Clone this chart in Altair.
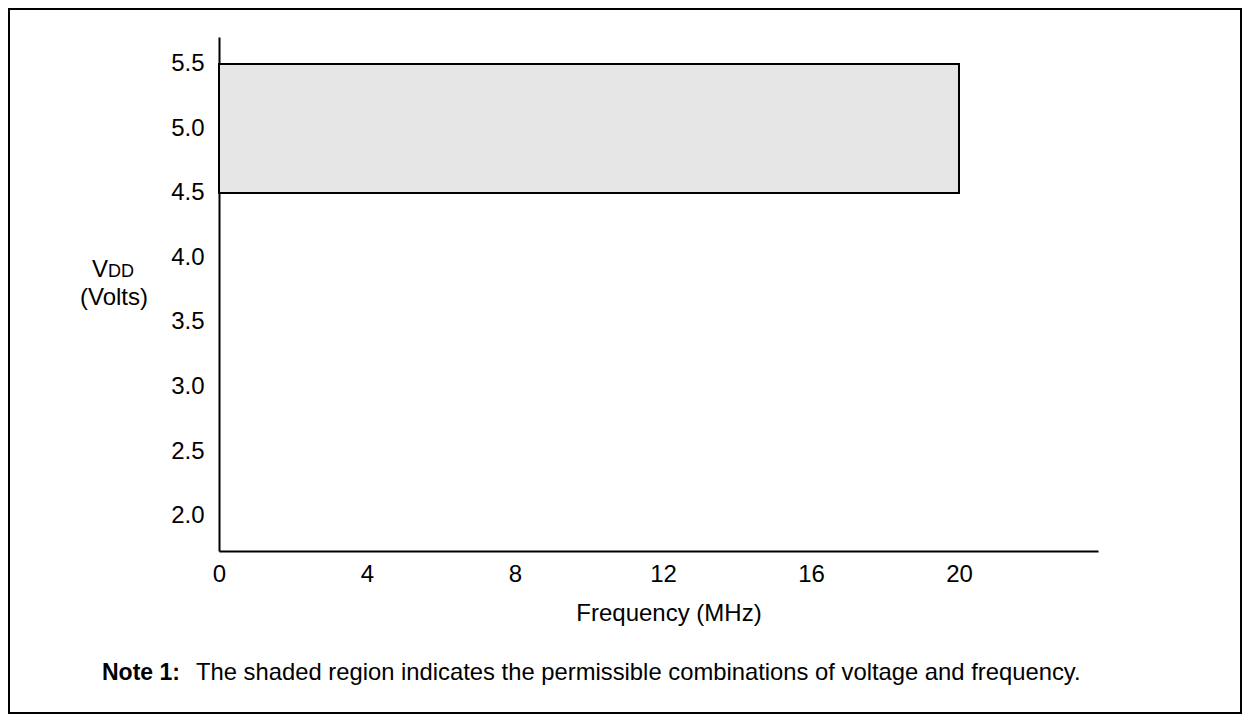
import altair as alt
import pandas as pd

# Data
x_ticks = [0, 4, 8, 12, 16, 20]
y_ticks = [2.0, 2.5, 3.0, 3.5, 4.0, 4.5, 5.0, 5.5]
region_f_start = [0]
region_f_end = [20]
region_v_low = [4.5]
region_v_high = [5.5]

x_domain = [0, 23.757]
y_domain = [1.725, 5.709]

FONT = "Liberation Sans"

region = pd.DataFrame({
    "f0": region_f_start, "f1": region_f_end,
    "v0": region_v_low, "v1": region_v_high,
})

x_scale = alt.Scale(domain=x_domain, nice=False, zero=False)
y_scale = alt.Scale(domain=y_domain, nice=False, zero=False)

x_axis = alt.Axis(values=x_ticks, title=None, grid=False, ticks=False, tickSize=0,
                  labelPadding=11, labelFontSize=24, labelFont=FONT, labelColor="black",
                  domainColor="black", domainWidth=2, labelFlush=False)
y_axis = alt.Axis(values=y_ticks, format=".1f", title=None, grid=False, ticks=False, tickSize=0,
                  labelPadding=15, labelFontSize=24, labelFont=FONT, labelColor="black",
                  domainColor="black", domainWidth=2, labelFlush=False)

rect = alt.Chart(region).mark_rect(fill="#e6e6e6", stroke="black", strokeWidth=2).encode(
    x=alt.X("f0:Q", scale=x_scale, axis=x_axis),
    x2="f1:Q",
    y=alt.Y("v0:Q", scale=y_scale, axis=y_axis),
    y2="v1:Q",
)

one = pd.DataFrame({"k": [0]})

def txt(text, x, y, size, align="center", weight="normal"):
    return alt.Chart(one).mark_text(
        text=text, font=FONT, fontSize=size, align=align, baseline="alphabetic",
        fontWeight=weight, color="black"
    ).encode(x=alt.value(x), y=alt.value(y))

texts = [
    txt("V", -111, 240, 24, align="right"),
    txt("DD", -111, 240, 18, align="left"),
    txt("(Volts)", -105, 268, 24),
    txt("Frequency (MHz)", 450, 584, 24),
    txt("Note 1:", -117, 643, 23, align="left", weight="bold"),
    txt("The shaded region indicates the permissible combinations of voltage and frequency.",
        -23, 643, 23.8, align="left"),
]

border = alt.Chart(one).mark_rect(fillOpacity=0, stroke="black", strokeWidth=2).encode(
    x=alt.value(-210), x2=alt.value(1022), y=alt.value(-28), y2=alt.value(676)
)

chart = alt.layer(rect, *texts, border).properties(
    width=879, height=514,
    padding={"left": 211, "top": 29, "right": 144, "bottom": 163},
    autosize=alt.AutoSizeParams(type="none"),
    background="white",
).configure_view(strokeWidth=0)

chart.save("out.html", embed_options={"renderer": "svg", "actions": False})
